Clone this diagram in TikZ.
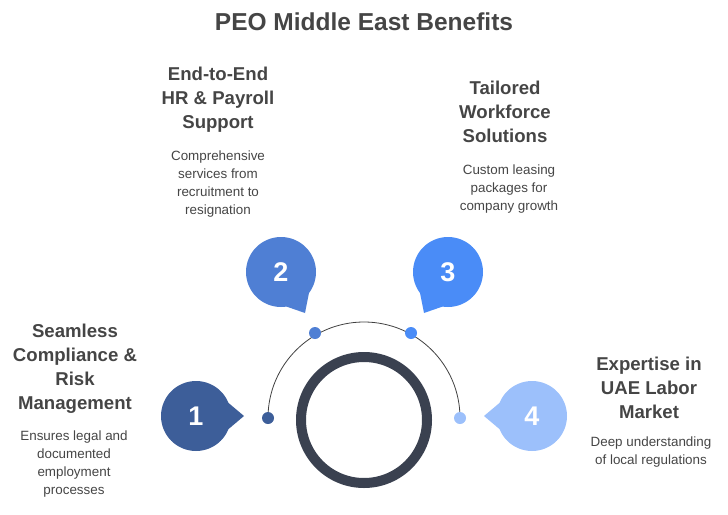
\documentclass[tikz,border=0pt]{standalone}
\usepackage{fontspec}
\setmainfont{Liberation Sans}
\usetikzlibrary{calc}
\begin{document}
\begin{tikzpicture}[x=1pt,y=-1pt,
  ttl/.style={font=\fontsize{18.6}{24}\selectfont\bfseries,text=black!73,align=center},
  dsc/.style={font=\fontsize{13.4}{18}\selectfont,text=black!73,align=center},
  num/.style={font=\fontsize{27}{30}\selectfont\bfseries,text=white},
  dot/.style={circle,inner sep=0pt,minimum size=12pt}]
\useasboundingbox (0,0) rectangle (728,514);
\definecolor{c1}{HTML}{3D5E99}\definecolor{c2}{HTML}{4F7FD4}
\definecolor{c3}{HTML}{4A8CF7}\definecolor{c4}{HTML}{9CC0FB}
\definecolor{ring}{HTML}{3A4150}
\newcommand\mybubble[5]{% color, center, angle, tip, number
  \fill[#1] #2 circle (35);
  \fill[#1] ($#2+(#3+22:35)$) -- #4 -- ($#2+(#3-22:35)$) -- #2 -- cycle;
  \node[num] (n#5) at #2 {#5};}
\node[font=\fontsize{24.5}{28}\selectfont\bfseries,text=black!73] (title) at (364,22) {PEO Middle East Benefits};
\draw[black!75,line width=0.8pt] (268,418) arc[start angle=180,end angle=360,radius=96];
\node[circle,draw=ring,line width=10pt,minimum size=126pt,inner sep=0pt] (ring) at (364,420) {};
\node[dot,fill=c1] (d1) at (268,418) {};
\node[dot,fill=c2] (d2) at (315,333) {};
\node[dot,fill=c3] (d3) at (411,333) {};
\node[dot,fill=c4] (d4) at (460,418) {};
\mybubble{c1}{(196,416)}{0}{(244,416)}{1}
\mybubble{c2}{(281,272)}{59}{(305,313)}{2}
\mybubble{c3}{(448,272)}{121}{(424,313)}{3}
\mybubble{c4}{(532,416)}{180}{(484,416)}{4}
\node[ttl] (t1) at (75,369) {Seamless\\Compliance \&\\Risk\\Management};
\node[dsc] (s1) at (74,464) {Ensures legal and\\documented\\employment\\processes};
\node[ttl] (t2) at (218,100) {End-to-End\\HR \& Payroll\\Support};
\node[dsc] (s2) at (218,184) {Comprehensive\\services from\\recruitment to\\resignation};
\node[ttl] (t3) at (505,112) {Tailored\\Workforce\\Solutions};
\node[dsc] (s3) at (509,189) {Custom leasing\\packages for\\company growth};
\node[ttl] (t4) at (649,388) {Expertise in\\UAE Labor\\Market};
\node[dsc] (s4) at (651,452) {Deep understanding\\of local regulations};
\end{tikzpicture}
\end{document}
